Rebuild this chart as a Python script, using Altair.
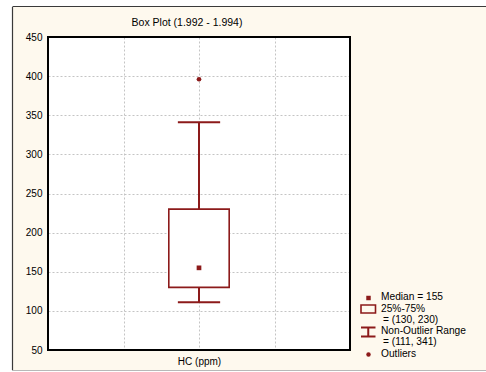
import altair as alt
import pandas as pd

# ---- data ----
categories = ["HC (ppm)"]
positions = [2]
q1_vals = [130]
q3_vals = [230]
medians = [155]
lows = [111]
highs = [341]
outlier_vals = [396]
y_ticks = [50, 100, 150, 200, 250, 300, 350, 400, 450]
x_grid = [1, 2, 3]
title_text = "Box Plot (1.992 - 1.994)"

RED = "#8C1A1A"
CREAM = "#FEF9EE"
FONT = "Liberation Sans"
W, H = 302, 313
HALF_BOX = 0.4
HALF_CAP = 0.28

box = pd.DataFrame({
    "cat": categories, "pos": positions, "q1": q1_vals, "q3": q3_vals,
    "med": medians, "lo": lows, "hi": highs,
})
box["left"] = box["pos"] - HALF_BOX
box["right"] = box["pos"] + HALF_BOX
box["capl"] = box["pos"] - HALF_CAP
box["capr"] = box["pos"] + HALF_CAP

out_df = pd.DataFrame({"pos": [positions[0]] * len(outlier_vals), "val": outlier_vals})

xscale = alt.Scale(domain=[0, 4], nice=False, zero=False)
yscale = alt.Scale(domain=[50, 450], nice=False, zero=False)
xaxis = alt.Axis(values=x_grid, labelExpr="datum.value == 2 ? '" + categories[0] + "' : ''",
                 grid=True, gridColor="#C4C4C4", gridDash=[2, 2], gridWidth=1,
                 ticks=False, domain=False, labelPadding=6, labelFontSize=10,
                 labelFont=FONT, labelColor="black", title=None)
yaxis = alt.Axis(values=y_ticks, grid=True, gridColor="#C4C4C4", gridDash=[2, 2], gridWidth=1,
                 ticks=False, domain=False, labelPadding=6, labelFontSize=10,
                 labelFont=FONT, labelColor="black", title=None)


def X(f):
    return alt.X(f, type="quantitative", scale=xscale, axis=xaxis)


def Y(f):
    return alt.Y(f, type="quantitative", scale=yscale, axis=yaxis)


base = alt.Chart(box)

whisker = base.mark_rule(color=RED, strokeWidth=2).encode(x=X("pos"), y=Y("lo"), y2="hi")
cap_lo = base.mark_rule(color=RED, strokeWidth=2).encode(x=X("capl"), x2="capr", y=Y("lo"))
cap_hi = base.mark_rule(color=RED, strokeWidth=2).encode(x=X("capl"), x2="capr", y=Y("hi"))
rect = base.mark_rect(fill="white", stroke=RED, strokeWidth=1.6).encode(
    x=X("left"), x2="right", y=Y("q1"), y2="q3")
med = base.mark_square(size=22, color=RED, opacity=1).encode(x=X("pos"), y=Y("med"))
outl = alt.Chart(out_df).mark_circle(size=22, color=RED, opacity=1).encode(x=X("pos"), y=Y("val"))

one = pd.DataFrame({"d": [0]})
frame = alt.Chart(one).mark_rect(fillOpacity=0, stroke="black", strokeWidth=2).encode(
    x=alt.value(0), x2=alt.value(W), y=alt.value(0), y2=alt.value(H))

# outer window decoration (white strips and border lines)
strip_left = alt.Chart(one).mark_rect(color="white").encode(
    x=alt.value(-48), x2=alt.value(-36), y=alt.value(-37), y2=alt.value(H + 22))
strip_top = alt.Chart(one).mark_rect(color="white").encode(
    x=alt.value(-48), x2=alt.value(W + 136), y=alt.value(-37), y2=alt.value(-30))
strip_bot = alt.Chart(one).mark_rect(color="white").encode(
    x=alt.value(-48), x2=alt.value(W + 136), y=alt.value(H + 21), y2=alt.value(H + 22))
line_left = alt.Chart(one).mark_rule(color="#3A3A3A", strokeWidth=1.2).encode(
    x=alt.value(-35.5), y=alt.value(-30), y2=alt.value(H + 20))
line_top = alt.Chart(one).mark_rule(color="#3A3A3A", strokeWidth=1.2).encode(
    x=alt.value(-35.5), x2=alt.value(W + 136), y=alt.value(-30.5))
line_bot = alt.Chart(one).mark_rule(color="#B8B8B8", strokeWidth=1.2).encode(
    x=alt.value(-36), x2=alt.value(W + 136), y=alt.value(H + 20.5))

title = alt.Chart(one).mark_text(font=FONT, fontSize=10.5, align="center", baseline="middle",
                                 color="black").encode(
    x=alt.value(139), y=alt.value(-14), text=alt.value(title_text))

# legend
leg_text = pd.DataFrame({
    "t": [f"Median = {medians[0]}", "25%-75%", f"= ({q1_vals[0]}, {q3_vals[0]})",
          "Non-Outlier Range", f"= ({lows[0]}, {highs[0]})", "Outliers"],
    "lx": [333, 333, 335, 333, 335, 333],
    "ly": [260, 272, 283, 294, 305, 317],
})
legend_txt = alt.Chart(leg_text).mark_text(font=FONT, fontSize=10.2, align="left",
                                           baseline="middle", color="black").encode(
    x=alt.X("lx:Q", scale=None), y=alt.Y("ly:Q", scale=None), text="t:N")
leg_med = alt.Chart(one).mark_square(size=20, color=RED, opacity=1).encode(
    x=alt.value(320.5), y=alt.value(261))
leg_box = alt.Chart(one).mark_rect(fillOpacity=0, stroke=RED, strokeWidth=1.6).encode(
    x=alt.value(313), x2=alt.value(327.5), y=alt.value(268), y2=alt.value(276))
leg_w1 = alt.Chart(one).mark_rule(color=RED, strokeWidth=2).encode(
    x=alt.value(313), x2=alt.value(327.5), y=alt.value(290.5))
leg_w2 = alt.Chart(one).mark_rule(color=RED, strokeWidth=2).encode(
    x=alt.value(313), x2=alt.value(327.5), y=alt.value(299.5))
leg_w3 = alt.Chart(one).mark_rule(color=RED, strokeWidth=2).encode(
    x=alt.value(320.25), y=alt.value(290.5), y2=alt.value(299.5))
leg_out = alt.Chart(one).mark_circle(size=20, color=RED, opacity=1).encode(
    x=alt.value(320.5), y=alt.value(317.5))

chart = alt.layer(
    strip_left, strip_top, strip_bot, line_left, line_top, line_bot,
    whisker, cap_lo, cap_hi, rect, med, outl, frame, title,
    legend_txt, leg_med, leg_box, leg_w1, leg_w2, leg_w3, leg_out,
).properties(
    width=W, height=H,
    autosize=alt.AutoSizeParams(type="none"),
    padding={"left": 48, "top": 37, "right": 136, "bottom": 22},
).configure(background=CREAM).configure_view(fill="white", stroke="transparent")

chart.save("out.html", embed_options={"renderer": "svg", "actions": False})
